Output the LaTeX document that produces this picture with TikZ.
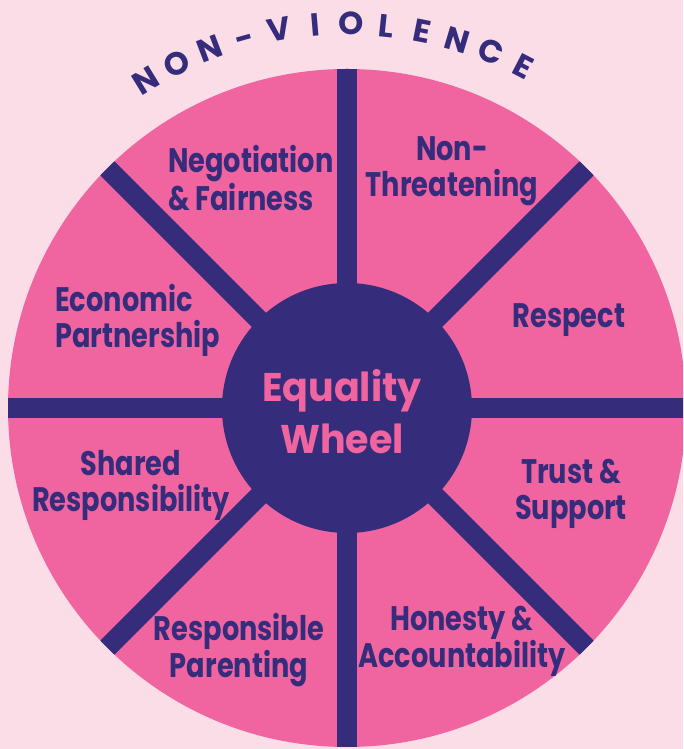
\documentclass[tikz,border=0pt]{standalone}
\usepackage{fontspec}
\usetikzlibrary{calc}
\newfontfamily\wheelfont{Poppins}[FakeStretch=0.80]
\newfontfamily\hubfont{Poppins}[FakeStretch=0.95]
\newfontfamily\arcfont{Poppins}
\definecolor{bgpink}{HTML}{FBDDE7}
\definecolor{wedgepink}{HTML}{F065A0}
\definecolor{wpurple}{HTML}{352C7C}
\tikzset{
  spoke/.style={draw=wpurple, line width=20pt},
  lbl/.style={text=wpurple, font=\wheelfont\bfseries\fontsize{34}{36}\selectfont, inner sep=0pt, align=center},
  lbll/.style={lbl, align=left},
  hubtxt/.style={text=wedgepink, font=\hubfont\bfseries\fontsize{40}{52}\selectfont, inner sep=0pt, align=center},
  arcletter/.style={text=wpurple, font=\arcfont\bfseries\fontsize{32}{32}\selectfont, inner sep=0pt, anchor=base}
}
\begin{document}
\begin{tikzpicture}[x=1pt,y=1pt]
\useasboundingbox (0,0) rectangle (683,749);
\fill[bgpink] (0,0) rectangle (683,749);
\clip (0,0) rectangle (683,749);
\coordinate (C) at (347,341);
\fill[wedgepink] (C) circle (339);
\foreach \a in {0,45,...,315} \coordinate (rim\a) at ($(C)+(\a:360)$);
\begin{scope}
  \clip (C) circle (339);
  \foreach \a in {0,45,...,315} \draw[spoke] (C) -- (rim\a);
\end{scope}
\node[circle, fill=wpurple, minimum size=250pt, inner sep=0pt] (hub) at (C) {};
\node[hubtxt] (title) at (342,337.5) {Equality\\Wheel};
\node[lbll, anchor=west] (neg) at (168,571) {Negotiation\\\& Fairness};
\node[lbl] (nonthr) at (452,577.5) {Non-\\Threatening};
\node[lbll, anchor=west] (econ) at (55,429) {Economic\\Partnership};
\node[lbl] (resp) at (569,429) {Respect};
\node[lbl] (shared) at (131,264) {Shared\\Responsibility};
\node[lbl] (trust) at (571,255.5) {Trust \&\\Support};
\node[lbl] (parent) at (239,99) {Responsible\\Parenting};
\node[lbl] (honest) at (462,107.5) {Honesty \&\\Accountability};
\foreach \l [count=\i from 0] in {N,O,N,-,V,I,O,L,E,N,C,E}
  \node[arcletter, rotate={121.6-5.36*\i-90}] (nv\i) at ($(C)+({121.6-5.36*\i}:373)$) {\l};
\end{tikzpicture}
\end{document}
